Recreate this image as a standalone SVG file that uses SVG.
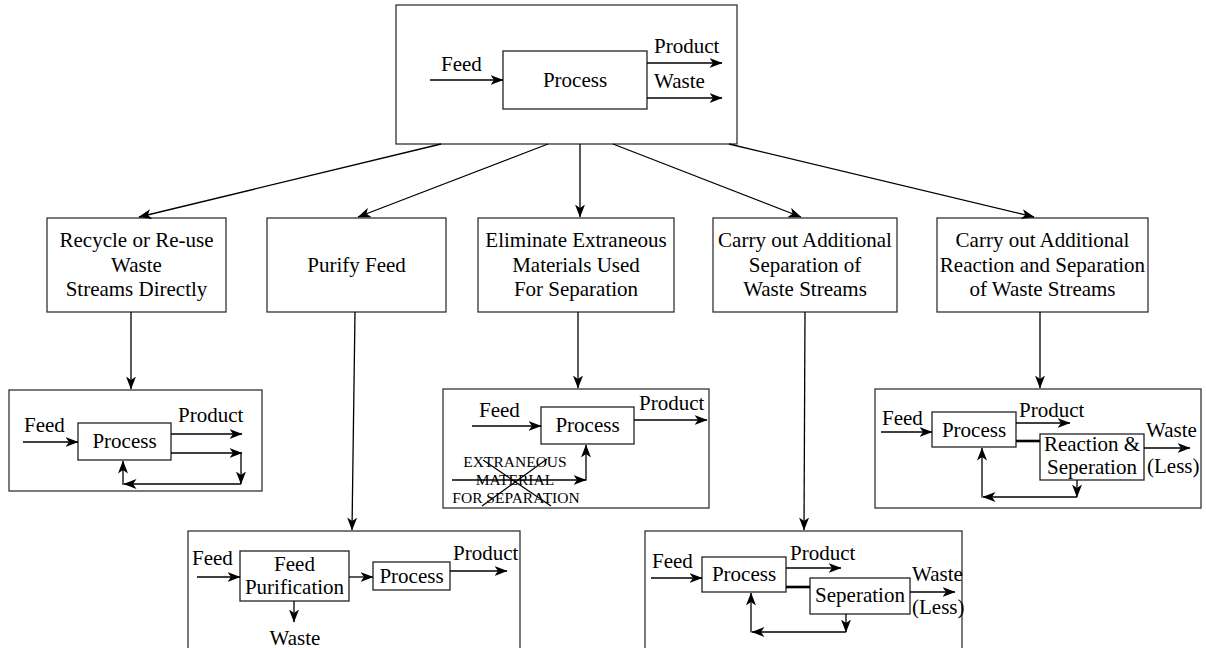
<svg xmlns="http://www.w3.org/2000/svg" width="1206" height="648" viewBox="0 0 1206 648">
<style>
.bx{fill:#fff;stroke:#333;stroke-width:1.3}
.ib{fill:#fff;stroke:#222;stroke-width:1.3}
.ln{fill:none;stroke:#000;stroke-width:1.3}
.ar{fill:none;stroke:#000;stroke-width:1.3;marker-end:url(#ah)}
.th{fill:none;stroke:#000;stroke-width:2.6}
text{font-family:"Liberation Serif","Times New Roman","DejaVu Serif",serif;font-size:21px;fill:#000}
.m{text-anchor:middle}
.s{font-size:15.5px}
</style>
<defs>
<marker id="ah" viewBox="0 0 13 10" refX="12.5" refY="5" markerWidth="13" markerHeight="10" markerUnits="userSpaceOnUse" orient="auto">
<path d="M0,0 L13,5 L0,10 L3.5,5 z" fill="#000"/>
</marker>
</defs>
<rect width="1206" height="648" fill="#fff"/>
<g font-family="Liberation Serif, Times New Roman, serif">
<g id="top">
<rect class="bx" x="396" y="5" width="341" height="139"/>
<rect class="ib" x="503" y="51" width="144" height="58"/>
<text class="m" x="575" y="87">Process</text>
<text x="441" y="71">Feed</text>
<text x="654" y="53">Product</text>
<text x="654" y="88">Waste</text>
<line class="ar" x1="430" y1="80" x2="503" y2="80"/>
<line class="ar" x1="647" y1="63" x2="722" y2="63"/>
<line class="ar" x1="647" y1="98" x2="722" y2="98"/>
</g>

<g id="recycle">
<rect class="bx" x="47" y="218" width="179" height="94"/>
<text class="m" x="136.5" y="247">Recycle or Re-use</text>
<text class="m" x="136.5" y="272">Waste</text>
<text class="m" x="136.5" y="296">Streams Directly</text>
</g>
<g id="purify">
<rect class="bx" x="267" y="218" width="179" height="94"/>
<text class="m" x="356.5" y="272">Purify Feed</text>
</g>
<g id="eliminate">
<rect class="bx" x="478" y="218" width="196" height="94"/>
<text class="m" x="576" y="247">Eliminate Extraneous</text>
<text class="m" x="576" y="272">Materials Used</text>
<text class="m" x="576" y="296">For Separation</text>
</g>
<g id="separation">
<rect class="bx" x="713" y="218" width="184" height="94"/>
<text class="m" x="805" y="247">Carry out Additional</text>
<text class="m" x="805" y="272">Separation of</text>
<text class="m" x="805" y="296">Waste Streams</text>
</g>
<g id="reaction">
<rect class="bx" x="937" y="218" width="211" height="94"/>
<text class="m" x="1042.5" y="247">Carry out Additional</text>
<text class="m" x="1042.5" y="272">Reaction and Separation</text>
<text class="m" x="1042.5" y="296">of Waste Streams</text>
</g>

<g id="recycle-example">
<rect class="bx" x="9" y="390" width="253" height="101"/>
<rect class="ib" x="78" y="423" width="93" height="37"/>
<text class="m" x="124.5" y="448">Process</text>
<text x="24" y="432">Feed</text>
<text x="178" y="422">Product</text>
<line class="ar" x1="23" y1="442" x2="78" y2="442"/>
<line class="ar" x1="171" y1="434" x2="242" y2="434"/>
<line class="ar" x1="171" y1="453" x2="242" y2="453"/>
<line class="ar" x1="241" y1="453" x2="241" y2="484"/>
<line class="ar" x1="241" y1="484" x2="124" y2="484"/>
<line class="ar" x1="123" y1="485" x2="123" y2="461"/>
</g>

<g id="eliminate-example">
<rect class="bx" x="443" y="389" width="266" height="119"/>
<rect class="ib" x="541" y="407" width="93" height="37"/>
<text class="m" x="587.5" y="432">Process</text>
<text x="479" y="417">Feed</text>
<text x="639" y="410">Product</text>
<text class="m s" x="515" y="467">EXTRANEOUS</text>
<text class="m s" x="515" y="485">MATERIAL</text>
<text class="m s" x="516" y="503">FOR SEPARATION</text>
<line class="ln" x1="483" y1="460" x2="551" y2="506"/>
<line class="ln" x1="547" y1="459" x2="482" y2="506"/>
<line class="ar" x1="472" y1="426" x2="541" y2="426"/>
<line class="ar" x1="634" y1="420" x2="707" y2="420"/>
<line class="ar" x1="452" y1="480" x2="586" y2="480"/>
<line class="ar" x1="586" y1="480.6" x2="586" y2="445"/>
</g>

<g id="reaction-example">
<rect class="bx" x="875" y="389" width="326" height="119"/>
<rect class="ib" x="932" y="412" width="84" height="35"/>
<text class="m" x="974" y="437">Process</text>
<rect class="ib" x="1040" y="434" width="104" height="46"/>
<text class="m" x="1092" y="451">Reaction &amp;</text>
<text class="m" x="1092" y="474">Seperation</text>
<text x="882" y="425">Feed</text>
<text x="1019" y="417">Product</text>
<text x="1146" y="437">Waste</text>
<text x="1147" y="473">(Less)</text>
<line class="ar" x1="881" y1="432" x2="932" y2="432"/>
<line class="ar" x1="1016" y1="423" x2="1070" y2="423"/>
<line class="th" x1="1016" y1="441" x2="1040" y2="441"/>
<line class="ar" x1="1144" y1="448" x2="1190" y2="448"/>
<line class="ar" x1="1077" y1="480" x2="1077" y2="497"/>
<line class="ar" x1="1077" y1="497" x2="983" y2="497"/>
<line class="ar" x1="982" y1="497.6" x2="982" y2="448"/>
</g>

<g id="purify-example">
<rect class="bx" x="188" y="531" width="332" height="130"/>
<rect class="ib" x="240" y="551" width="109" height="50"/>
<text class="m" x="294.5" y="571">Feed</text>
<text class="m" x="294.5" y="594">Purification</text>
<rect class="ib" x="373" y="562" width="77" height="28"/>
<text class="m" x="411.5" y="583">Process</text>
<text x="192" y="565">Feed</text>
<text x="453" y="560">Product</text>
<text class="m" x="295" y="645">Waste</text>
<line class="ar" x1="197" y1="577" x2="240" y2="577"/>
<line class="ar" x1="349" y1="577" x2="373" y2="577"/>
<line class="ar" x1="450" y1="571" x2="507" y2="571"/>
<line class="ar" x1="294" y1="601" x2="294" y2="622"/>
</g>

<g id="separation-example">
<rect class="bx" x="645" y="531" width="317" height="130"/>
<rect class="ib" x="702" y="557" width="84" height="35"/>
<text class="m" x="744" y="581">Process</text>
<rect class="ib" x="810" y="578" width="100" height="36"/>
<text class="m" x="860" y="602">Seperation</text>
<text x="652" y="568">Feed</text>
<text x="790" y="560">Product</text>
<text x="912" y="581">Waste</text>
<text x="912" y="614">(Less)</text>
<line class="ar" x1="651" y1="578" x2="702" y2="578"/>
<line class="ar" x1="786" y1="568" x2="841" y2="568"/>
<line class="th" x1="786" y1="587" x2="810" y2="587"/>
<line class="ar" x1="910" y1="592" x2="955" y2="592"/>
<line class="ar" x1="846" y1="614" x2="846" y2="632"/>
<line class="ar" x1="846" y1="632" x2="752" y2="632"/>
<line class="ar" x1="751" y1="632.6" x2="751" y2="593"/>
</g>
</g>
<g id="connectors">
<line class="ar" x1="441" y1="144" x2="139" y2="217"/>
<line class="ar" x1="548" y1="144" x2="358" y2="217"/>
<line class="ar" x1="580" y1="144" x2="580" y2="217"/>
<line class="ar" x1="613" y1="144" x2="801" y2="217"/>
<line class="ar" x1="729" y1="144" x2="1034" y2="217"/>
<line class="ar" x1="131" y1="312" x2="131" y2="389"/>
<line class="ar" x1="355" y1="312" x2="352" y2="530"/>
<line class="ar" x1="578" y1="312" x2="578" y2="388"/>
<line class="ar" x1="805" y1="312" x2="804" y2="530"/>
<line class="ar" x1="1040" y1="312" x2="1040" y2="388"/>
</g>
</svg>
